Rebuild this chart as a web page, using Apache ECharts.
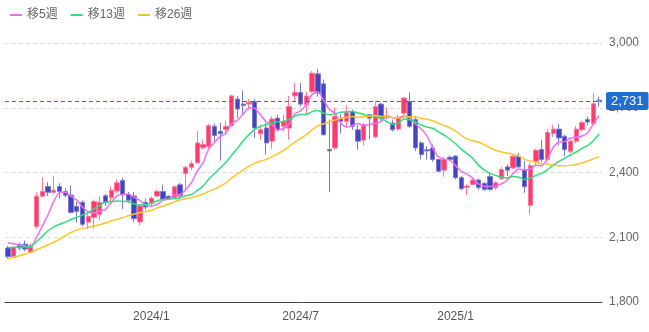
<!DOCTYPE html>
<html><head><meta charset="utf-8">
<script src="https://cdn.jsdelivr.net/npm/echarts@6/dist/echarts.min.js"></script>
<style>html,body{margin:0;padding:0;background:#fff}#c{width:649px;height:332px}</style>
</head><body><div id="c"></div>
<script>
const startWeek = '2023-07-10';
const weekCount = 104;
const seriesNames = ['移5週', '移13週', '移26週'];
const yTicks = [1800, 2100, 2400, 2700, 3000];
const xTickMonths = [1, 7];
const lastPrice = 2731;

const opens = [2050,2010,2065,2068,2030,2150,2290,2335,2308,2335,2312,2295,2243,2262,2170,2192,2206,2292,2283,2314,
2363,2298,2291,2171,2262,2257,2291,2312,2290,2283,2343,2395,2424,2445,2515,2519,2614,2590,2598,2617,
2740,2717,2717,2729,2580,2606,2545,2652,2614,2606,2755,2771,2714,2775,2857,2811,2506,2514,2652,2637,
2683,2598,2550,2668,2565,2717,2654,2629,2601,2675,2729,2645,2537,2505,2514,2460,2411,2471,2476,2376,
2330,2345,2365,2349,2381,2329,2371,2426,2421,2475,2414,2248,2452,2506,2460,2580,2601,2568,2498,2545,
2598,2645,2626,2735];
const closes = [2010,2053,2050,2045,2063,2290,2312,2308,2318,2312,2295,2215,2220,2160,2197,2266,2262,2262,2318,2352,
2298,2272,2186,2245,2240,2281,2312,2276,2278,2334,2292,2424,2441,2537,2530,2617,2571,2580,2614,2755,
2694,2710,2725,2606,2598,2537,2648,2598,2637,2706,2771,2717,2755,2860,2768,2575,2500,2660,2637,2678,
2614,2545,2621,2652,2706,2652,2663,2598,2652,2745,2614,2514,2483,2500,2460,2406,2460,2460,2376,2325,
2337,2365,2330,2322,2322,2352,2414,2411,2475,2426,2334,2432,2503,2460,2586,2601,2560,2506,2545,2601,
2632,2634,2718,2731];
const lows = [2000,2005,2040,2035,2025,2140,2285,2290,2300,2280,2285,2210,2170,2150,2138,2140,2180,2245,2260,2305,
2230,2262,2170,2155,2228,2240,2285,2270,2272,2276,2276,2321,2410,2440,2505,2510,2545,2455,2575,2612,
2652,2668,2690,2560,2552,2483,2510,2590,2590,2552,2730,2706,2665,2768,2752,2570,2308,2505,2580,2610,
2598,2505,2525,2555,2560,2640,2645,2590,2595,2665,2606,2500,2460,2460,2450,2400,2380,2455,2368,2318,
2296,2340,2320,2315,2315,2320,2365,2383,2415,2420,2306,2206,2430,2450,2455,2565,2525,2475,2490,2535,
2590,2620,2620,2705];
const highs = [2060,2060,2075,2085,2070,2308,2378,2355,2383,2350,2328,2340,2265,2270,2207,2275,2290,2300,2335,2368,
2376,2310,2310,2250,2280,2290,2322,2345,2295,2340,2352,2430,2455,2592,2552,2625,2627,2630,2640,2760,
2755,2780,2740,2740,2621,2629,2660,2668,2668,2755,2815,2814,2775,2870,2880,2830,2645,2700,2670,2710,
2692,2621,2630,2670,2730,2725,2702,2645,2668,2750,2771,2660,2545,2522,2530,2465,2470,2478,2480,2385,
2346,2372,2372,2356,2395,2360,2425,2437,2480,2490,2453,2445,2510,2552,2600,2621,2625,2575,2552,2615,
2640,2660,2770,2752];
const ma5 = [2075,2070,2064,2060,2055,2100,2152,2204,2267,2308,2309,2290,2272,2240,2217,2212,2221,2229,2261,2292,
2298,2300,2285,2271,2248,2245,2253,2271,2277,2296,2298,2321,2354,2406,2445,2510,2539,2567,2582,2627,
2643,2671,2700,2698,2667,2635,2623,2597,2604,2625,2672,2686,2717,2762,2774,2735,2692,2673,2628,2610,
2618,2627,2619,2622,2628,2635,2659,2654,2654,2662,2654,2625,2602,2571,2514,2473,2462,2457,2432,2405,
2392,2373,2347,2336,2335,2338,2348,2364,2395,2416,2412,2416,2434,2431,2463,2516,2542,2543,2560,2563,
2569,2584,2626,2663];
const ma13 = [2052,2053,2054,2055,2057,2080,2105,2130,2148,2160,2170,2182,2192,2203,2214,2231,2248,2263,2265,2268,
2267,2264,2254,2250,2252,2257,2269,2275,2276,2281,2283,2292,2298,2317,2337,2370,2395,2421,2447,2481,
2513,2546,2576,2600,2614,2621,2630,2635,2636,2647,2661,2669,2669,2682,2687,2675,2667,2672,2679,2682,
2683,2676,2669,2660,2659,2651,2636,2623,2629,2648,2644,2635,2620,2611,2605,2588,2573,2554,2533,2507,
2487,2465,2433,2411,2396,2386,2379,2375,2381,2378,2368,2373,2386,2396,2413,2434,2452,2466,2481,2495,
2512,2525,2547,2578];
const ma26 = [2000,2007,2014,2022,2031,2042,2053,2065,2077,2092,2107,2122,2133,2140,2146,2152,2158,2166,2175,2183,
2191,2200,2208,2214,2219,2224,2236,2244,2253,2264,2273,2278,2283,2292,2300,2312,2323,2337,2352,2375,
2394,2411,2429,2442,2453,2460,2473,2486,2503,2521,2541,2558,2575,2598,2616,2626,2634,2643,2650,2656,
2659,2656,2658,2661,2664,2660,2659,2655,2652,2657,2658,2657,2651,2647,2640,2629,2617,2607,2592,2572,
2555,2547,2540,2528,2515,2503,2495,2490,2484,2476,2461,2453,2447,2441,2439,2433,2431,2431,2433,2437,
2444,2453,2463,2473];

const colors = ['#f26cf4', '#2ddf7c', '#fcc52a'];
const upColor = '#ff3a6c', downColor = '#4444c0';
const lastLineColor = '#2a6dd6';

// weekly categories
const weeks = [];
(function(){
  const d = new Date(startWeek + 'T00:00:00Z');
  for (let i = 0; i < weekCount; i++) {
    const t = new Date(d.getTime() + i * 7 * 86400000);
    weeks.push(t.getUTCFullYear() + '/' + (t.getUTCMonth() + 1) + '/' + t.getUTCDate());
  }
})();
function ym(s){ const p = s.split('/'); return [+p[0], +p[1]]; }
function isTick(idx){
  const [y, m] = ym(weeks[idx]);
  if (xTickMonths.indexOf(m) < 0) return false;
  if (idx === 0) return false;
  return ym(weeks[idx-1])[1] !== m;
}

const candleData = opens.map((o, i) => [o, closes[i], lows[i], highs[i]]);
const font = "'Liberation Sans','Noto Sans CJK JP',Arial,sans-serif";

const chart = echarts.init(document.getElementById('c'), null, {renderer: 'canvas'});
chart.setOption({
  animation: false,
  textStyle: {fontFamily: font},
  legend: {
    left: 5, top: 4, icon: 'rect', itemWidth: 12, itemHeight: 2, itemGap: 13,
    textStyle: {color: '#666', fontSize: 12, fontFamily: font},
    data: seriesNames
  },
  grid: {left: 5, right: 47, top: 43, bottom: 30},
  xAxis: {
    type: 'category', data: weeks, boundaryGap: true,
    axisLine: {lineStyle: {color: '#444', width: 1}},
    axisTick: {show: false},
    axisLabel: {
      color: '#555', fontSize: 12, margin: 9, fontFamily: font,
      interval: (idx) => isTick(idx),
      formatter: (v) => { const [y, m] = ym(v); return y + '/' + m; }
    },
    splitLine: {show: false}
  },
  yAxis: {
    type: 'value', position: 'right', min: yTicks[0], max: yTicks[yTicks.length-1], interval: 300,
    axisLine: {show: false}, axisTick: {show: false},
    axisLabel: {color: '#666', fontSize: 12, margin: 7, fontFamily: font,
      formatter: (v) => v.toLocaleString('en-US')},
    splitLine: {lineStyle: {color: '#dcdcdc', type: [4, 3]}}
  },
  series: [
    {
      type: 'candlestick', name: 'price', data: candleData, barWidth: '84%',
      itemStyle: {color: upColor, color0: downColor, borderColor: '#ff7898', borderColor0: '#7a7ad2', borderWidth: 1},
      markLine: {
        silent: true, symbol: ['none', 'none'], animation: false,
        lineStyle: {color: lastLineColor, type: [4, 3], width: 1.2, opacity: 1},
        label: {
          position: 'end', distance: 4, formatter: lastPrice.toLocaleString('en-US'),
          color: '#fff', backgroundColor: '#1f6fd1', padding: [3, 5, 2, 5], borderRadius: 2,
          fontSize: 13, fontFamily: font
        },
        data: [{yAxis: lastPrice, lineStyle: {color: lastLineColor, type: [4, 3], width: 1.2}}]
      },
      z: 3
    },
    {type: 'line', name: seriesNames[0], data: ma5, showSymbol: false, smooth: 0.2,
     lineStyle: {color: colors[0], width: 1.5}, itemStyle: {color: colors[0]}, z: 4},
    {type: 'line', name: seriesNames[1], data: ma13, showSymbol: false, smooth: 0.2,
     lineStyle: {color: colors[1], width: 1.5}, itemStyle: {color: colors[1]}, z: 4},
    {type: 'line', name: seriesNames[2], data: ma26, showSymbol: false, smooth: 0.2,
     lineStyle: {color: colors[2], width: 1.5}, itemStyle: {color: colors[2]}, z: 4}
  ]
});
</script>
</body></html>
